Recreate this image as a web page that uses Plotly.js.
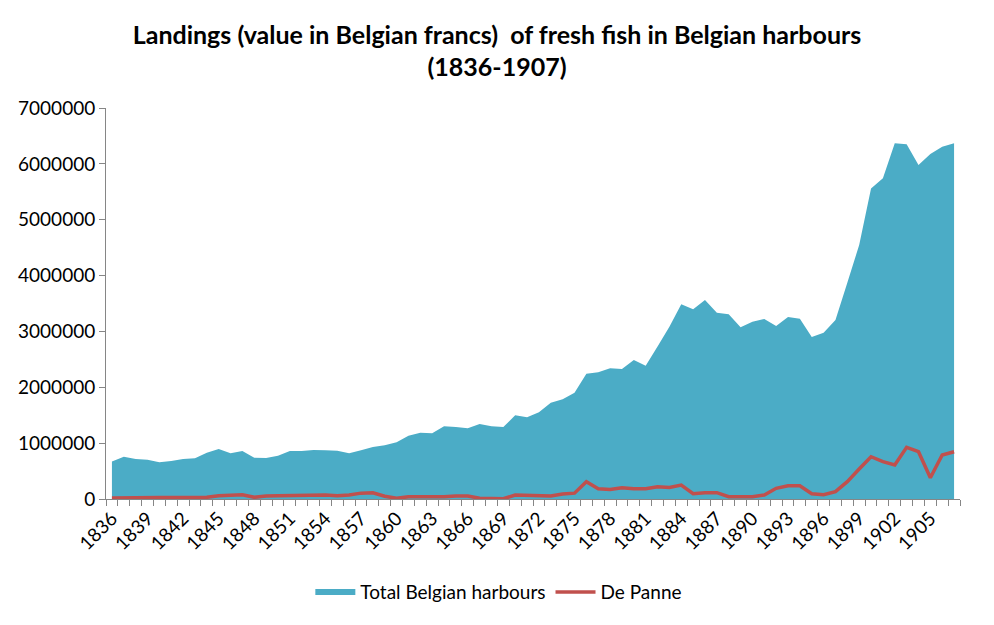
<!DOCTYPE html>
<html>
<head>
<meta charset="utf-8">
<script src="https://cdn.plot.ly/plotly-3.0.1.min.js"></script>
<style>html,body{margin:0;padding:0;background:#fff;}#chart{width:994px;height:625px;}</style>
</head>
<body>
<div id="chart"></div>
<script>
const years = [];
for (let y = 1836; y <= 1907; y++) years.push(y);

const totalBelgian = [
  670000, 757000, 716000, 704000, 656000, 680000, 716000, 728000, 829000, 895000,
  818000, 859000, 740000, 734000, 776000, 859000, 859000, 877000, 871000, 865000,
  818000, 871000, 931000, 961000, 1015000, 1133000, 1187000, 1175000, 1301000, 1289000,
  1265000, 1343000, 1301000, 1289000, 1498000, 1462000, 1552000, 1724000, 1784000, 1903000,
  2243000, 2268000, 2339000, 2327000, 2488000, 2387000, 2730000, 3085000, 3485000, 3396000,
  3562000, 3335000, 3306000, 3073000, 3174000, 3222000, 3097000, 3258000, 3228000, 2900000,
  2977000, 3204000, 3872000, 4547000, 5561000, 5741000, 6368000, 6350000, 5979000, 6176000,
  6307000, 6368000
];

const dePanne = [
  20000, 25000, 25000, 25000, 25000, 25000, 30000, 40000, 30000, 60000,
  65000, 75000, 30000, 55000, 60000, 65000, 70000, 70000, 70000, 60000,
  70000, 105000, 110000, 50000, 12000, 40000, 40000, 30000, 40000, 55000,
  55000, 12000, 5000, 5000, 70000, 70000, 55000, 55000, 90000, 105000,
  310000, 185000, 170000, 203000, 185000, 185000, 220000, 205000, 250000, 95000,
  113000, 113000, 41000, 41000, 41000, 72000, 191000, 238000, 238000, 95000,
  77000, 131000, 310000, 537000, 757000, 668000, 609000, 925000, 847000, 381000,
  788000, 847000
];

const tickYears = [];
for (let y = 1836; y <= 1905; y += 3) tickYears.push(y);
const yTicks = [0, 1000000, 2000000, 3000000, 4000000, 5000000, 6000000, 7000000];

const font = 'Lato, "Open Sans", "DejaVu Sans", sans-serif';

const traces = [
  {
    x: years, y: totalBelgian, type: 'scatter', mode: 'none',
    fill: 'tozeroy', fillcolor: '#4BACC6', name: 'Total Belgian harbours'
  },
  {
    x: years, y: dePanne, type: 'scatter', mode: 'lines',
    line: {color: '#C0504D', width: 3.5}, name: 'De Panne'
  }
];

const layout = {
  width: 994, height: 625,
  margin: {l: 106, r: 34, t: 108, b: 126},
  paper_bgcolor: '#fff', plot_bgcolor: '#fff',
  font: {family: font, size: 19, color: '#000'},
  title: {
    text: '<b>Landings (value in Belgian francs)  of fresh fish in Belgian harbours<br>(1836-1907)</b>',
    font: {family: font, size: 25, color: '#000'},
    x: 0.5, xref: 'container', xanchor: 'center',
    y: 0.93, yref: 'container', yanchor: 'top'
  },
  xaxis: {
    type: 'linear', range: [1835.5, 1907.5],
    tickmode: 'array', tickvals: tickYears, ticktext: tickYears.map(String),
    tickangle: -45, ticks: '', showgrid: false, zeroline: false,
    showline: true, linecolor: '#868686', linewidth: 1,
    tickfont: {family: font, size: 19, color: '#000'},
    minor: {tick0: 1835.5, dtick: 1, ticks: 'outside', ticklen: 6, tickcolor: '#868686', showgrid: false}
  },
  yaxis: {
    range: [0, 7000000], tickmode: 'array', tickvals: yTicks,
    ticktext: yTicks.map(String),
    ticks: 'outside', ticklen: 6, tickcolor: '#868686',
    showgrid: false, zeroline: false,
    showline: true, linecolor: '#868686', linewidth: 1,
    tickfont: {family: font, size: 19, color: '#000'}
  },
  showlegend: true,
  legend: {
    orientation: 'h', x: 0.46, xanchor: 'center',
    y: -0.238, yanchor: 'middle', itemwidth: 40,
    font: {family: font, size: 19, color: '#000'}
  }
};

Plotly.newPlot('chart', traces, layout, {displayModeBar: false, staticPlot: true});
</script>
</body>
</html>
